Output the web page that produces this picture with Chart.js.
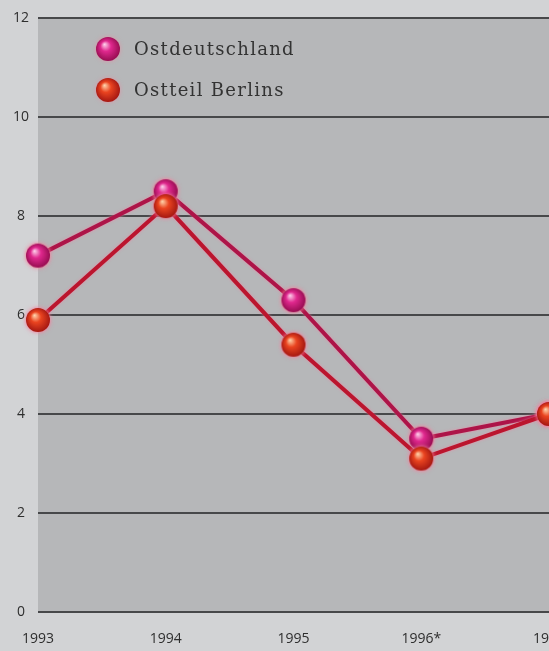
<!DOCTYPE html>
<html lang="de">
<head>
<meta charset="utf-8">
<script src="https://cdn.jsdelivr.net/npm/chart.js@4"></script>
<style>
  html, body { margin: 0; padding: 0; background: #d2d3d5; overflow: hidden; }
  #rahmen { width: 600px; height: 651px; }
</style>
</head>
<body>
<div id="rahmen"><canvas id="grafik" width="600" height="651"></canvas></div>
<script>
// Daten
const jahre = ["1993", "1994", "1995", "1996*", "1997"];
const ostdeutschland = [7.2, 8.5, 6.3, 3.5, 4.0];
const ostteilBerlins = [5.9, 8.2, 5.4, 3.1, 4.0];
const yTicks = [0, 2, 4, 6, 8, 10, 12];

// Kugel als Punktsymbol (radialer Verlauf)
function kugel(hell, mitte, dunkel, r) {
    let c = document.createElement("canvas");
    let g = r * 2 + 8;
    c.width = g; c.height = g;
    let ctx = c.getContext("2d");
    let m = g / 2;
    // leichter Schein um die Kugel
    ctx.shadowColor = "rgba(255,120,150,0.55)";
    ctx.shadowBlur = 4;
    let verlauf = ctx.createRadialGradient(m - r * 0.3, m - r * 0.4, 0, m, m, r * 1.1);
    verlauf.addColorStop(0, hell);
    verlauf.addColorStop(0.4, mitte);
    verlauf.addColorStop(1, dunkel);
    ctx.fillStyle = verlauf;
    ctx.beginPath();
    ctx.arc(m, m, r, 0, Math.PI * 2);
    ctx.fill();
    return c;
}

const kugelPink = kugel("#ffd6ee", "#e0288e", "#8e0a4a", 12);
const kugelRot = kugel("#ffd9b0", "#ea4420", "#9c1210", 12);

// Hintergrund: Diagrammfläche dunkler grau
const hintergrund = {
    id: "hintergrund",
    beforeDraw(chart) {
        let ctx = chart.ctx;
        let a = chart.chartArea;
        ctx.save();
        ctx.fillStyle = "#d2d3d5";
        ctx.fillRect(0, 0, chart.width, chart.height);
        ctx.fillStyle = "#b6b7b9";
        ctx.fillRect(a.left, a.top, chart.width - a.left, a.bottom - a.top);
        ctx.restore();
    }
};

// Linien mit hellem Schein
const schein = {
    id: "schein",
    beforeDatasetDraw(chart) {
        chart.ctx.save();
        chart.ctx.shadowColor = "rgba(240,130,160,0.8)";
        chart.ctx.shadowBlur = 3;
    },
    afterDatasetDraw(chart) {
        chart.ctx.restore();
    }
};

// Legende innerhalb der Diagrammfläche
const legende = {
    id: "legende",
    afterDraw(chart) {
        let ctx = chart.ctx;
        ctx.save();
        ctx.font = "18px 'DejaVu Serif', serif";
        ctx.letterSpacing = "1.3px";
        ctx.fillStyle = "#333333";
        ctx.textBaseline = "middle";
        chart.data.datasets.forEach((ds, i) => {
            let y = 49 + i * 41;
            let bild = ds.pointStyle;
            ctx.drawImage(bild, 108 - bild.width / 2, y - bild.height / 2);
            ctx.fillText(ds.label, 134, y + 1);
        });
        ctx.restore();
    }
};

const tickSchrift = { family: "'Open Sans', sans-serif", size: 14 };

new Chart(document.getElementById("grafik").getContext("2d"), {
    type: "line",
    data: {
        labels: jahre,
        datasets: [
            {
                label: "Ostdeutschland",
                data: ostdeutschland,
                borderColor: "#ad1448",
                borderWidth: 4,
                pointStyle: kugelPink,
                pointRadius: 12,
                tension: 0,
                clip: false,
                order: 1
            },
            {
                label: "Ostteil Berlins",
                data: ostteilBerlins,
                borderColor: "#bb152e",
                borderWidth: 4,
                pointStyle: kugelRot,
                pointRadius: 12,
                tension: 0,
                clip: false,
                order: 0
            }
        ]
    },
    options: {
        responsive: false,
        animation: false,
        layout: { padding: { top: 18, right: 51, left: 0, bottom: 0 } },
        plugins: {
            legend: { display: false },
            tooltip: { enabled: false }
        },
        scales: {
            x: {
                offset: false,
                grid: { display: false },
                border: { display: false },
                ticks: {
                    color: "#2e2e2e",
                    font: tickSchrift,
                    padding: 11,
                    maxRotation: 0,
                    autoSkip: false
                },
                afterFit(scale) { scale.height = 39; }
            },
            y: {
                min: 0,
                max: 12,
                afterBuildTicks(scale) { scale.ticks = yTicks.map(v => ({ value: v })); },
                grid: { color: "#47484a", lineWidth: 2, drawTicks: false },
                border: { display: false },
                ticks: {
                    color: "#2e2e2e",
                    font: tickSchrift,
                    crossAlign: "center",
                    padding: 9
                },
                afterFit(scale) { scale.width = 38; }
            }
        }
    },
    plugins: [hintergrund, schein, legende]
});
</script>
</body>
</html>
